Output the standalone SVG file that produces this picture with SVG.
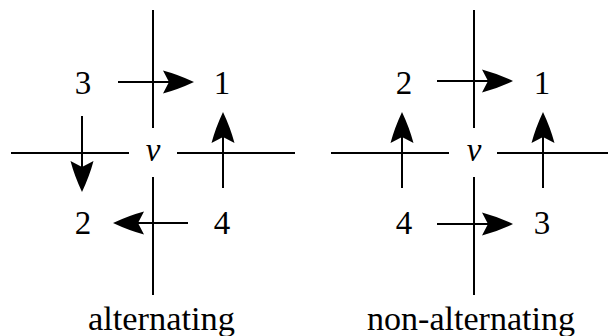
<svg xmlns="http://www.w3.org/2000/svg" width="609" height="336" viewBox="0 0 609 336">
<style>
  .ln { stroke: #000; stroke-width: 2; fill: none; }
  .ar { stroke: #000; stroke-width: 2; fill: none; marker-end: url(#tip); }
  .lb { font-family: "Liberation Serif", "DejaVu Serif", serif; font-size: 33px; fill: #000; text-anchor: middle; }
  .v { font-style: italic; }
  .cap { font-family: "Liberation Serif", "DejaVu Serif", serif; font-size: 33px; fill: #000; text-anchor: middle; }
</style>
<defs>
  <marker id="tip" viewBox="0 0 31 24" refX="15" refY="12" markerWidth="31" markerHeight="24" markerUnits="userSpaceOnUse" orient="auto">
    <path d="M31 12 Q15 4.5 0 0.5 L6 12 L0 23.5 Q15 19.5 31 12 Z" fill="#000"/>
  </marker>
</defs>
<rect width="609" height="336" fill="#fff"/>
<g id="alternating">
  <g id="alt-lines">
    <line class="ln" x1="153" y1="10" x2="153" y2="128"/>
    <line class="ln" x1="153" y1="177" x2="153" y2="295"/>
    <line class="ln" x1="11" y1="153" x2="129" y2="153"/>
    <line class="ln" x1="177" y1="153" x2="295" y2="153"/>
  </g>
  <g id="alt-v"><text class="lb v" x="153" y="161">v</text></g>
  <g id="alt-n3"><text class="lb" x="83" y="94">3</text></g>
  <g id="alt-n1"><text class="lb" x="222" y="94">1</text></g>
  <g id="alt-n2"><text class="lb" x="83" y="234">2</text></g>
  <g id="alt-n4"><text class="lb" x="222" y="234">4</text></g>
  <g id="alt-arrows">
    <line class="ar" x1="118" y1="82" x2="178" y2="82"/>
    <line class="ar" x1="82" y1="116" x2="82" y2="176"/>
    <line class="ar" x1="188" y1="223" x2="129" y2="223"/>
    <line class="ar" x1="223" y1="188" x2="223" y2="128"/>
  </g>
  <text class="cap" x="161.5" y="330" textLength="147" lengthAdjust="spacingAndGlyphs">alternating</text>
</g>
<g id="nonalternating">
  <g id="non-lines">
    <line class="ln" x1="474" y1="10" x2="474" y2="128"/>
    <line class="ln" x1="474" y1="177" x2="474" y2="295"/>
    <line class="ln" x1="331" y1="153" x2="449" y2="153"/>
    <line class="ln" x1="497" y1="153" x2="608" y2="153"/>
  </g>
  <g id="non-v"><text class="lb v" x="474" y="161">v</text></g>
  <g id="non-n2"><text class="lb" x="404" y="94">2</text></g>
  <g id="non-n1"><text class="lb" x="542" y="94">1</text></g>
  <g id="non-n4"><text class="lb" x="404" y="234">4</text></g>
  <g id="non-n3"><text class="lb" x="542" y="234">3</text></g>
  <g id="non-arrows">
    <line class="ar" x1="437" y1="81" x2="497" y2="81"/>
    <line class="ar" x1="402" y1="188" x2="402" y2="128"/>
    <line class="ar" x1="543" y1="188" x2="543" y2="128"/>
    <line class="ar" x1="437" y1="224" x2="497" y2="224"/>
  </g>
  <text class="cap" x="471" y="330" textLength="208" lengthAdjust="spacingAndGlyphs">non-alternating</text>
</g>
</svg>
